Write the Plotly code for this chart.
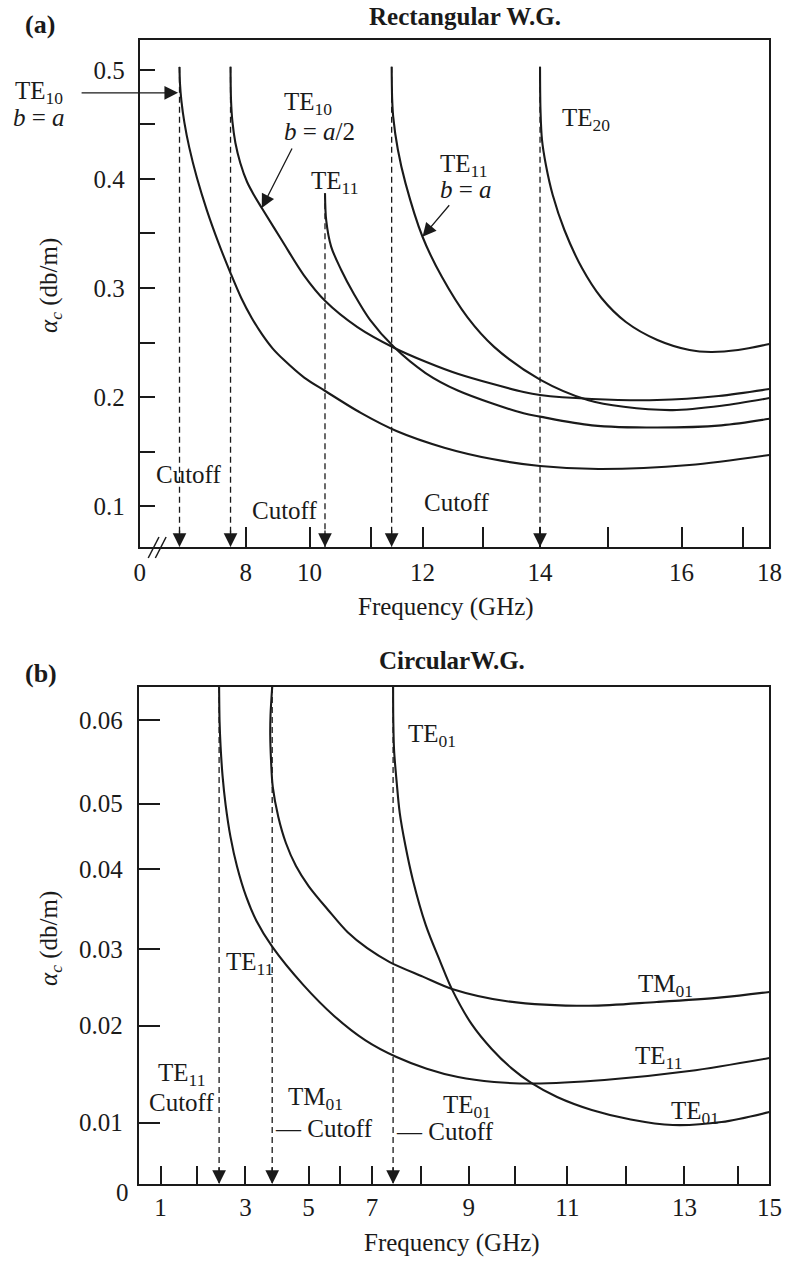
import numpy as np
import plotly.graph_objects as go

W, H = 799, 1262
FONT = "Liberation Serif"
INK = "#1a1a1a"
FS = 25

# ---------------- Panel (a): Rectangular W.G. (freq GHz, alpha_c dB/m) ----------------
te10_ba_f = [5.919, 5.935, 5.98, 6.072, 6.225, 6.47, 6.776, 7.143, 7.51, 7.856, 8.185, 8.515, 8.844,
             9.173, 9.831, 10.254, 10.833, 11.493, 12.358, 13.155, 14.0, 14.857, 16.127, 18.0]
te10_ba_a = [0.5028, 0.4874, 0.4715, 0.452, 0.429, 0.4006, 0.3715, 0.3414, 0.3144, 0.2908, 0.2725,
             0.2572, 0.2444, 0.2346, 0.2178, 0.2055, 0.1854, 0.1688, 0.1535, 0.1431, 0.1367, 0.1339,
             0.1376, 0.1468]

te10_ba2_f = [7.52, 7.535, 7.58, 7.673, 7.826, 8.04, 8.254, 8.5, 9.142, 9.816, 10.254, 10.778, 11.455,
              12.063, 12.59, 13.71, 14.0, 14.757, 15.667, 16.603, 18.0]
te10_ba2_a = [0.503, 0.4725, 0.4523, 0.433, 0.4147, 0.3972, 0.3853, 0.3734, 0.3431, 0.3119, 0.2881,
              0.2642, 0.245, 0.2321, 0.2211, 0.2046, 0.2018, 0.1982, 0.1972, 0.2009, 0.2073]

te11_f = [10.25, 10.27, 10.35, 10.51, 10.73, 10.98, 11.44, 12.05, 12.58, 13.71, 14.0, 14.76, 15.67, 16.65, 18.0]
te11_a = [0.387, 0.362, 0.338, 0.317, 0.2936, 0.271, 0.246, 0.222, 0.206, 0.185, 0.182, 0.174, 0.172, 0.174, 0.180]

te11_ba_f = [11.40, 11.41, 11.43, 11.52, 11.67, 12.0, 12.32, 12.74, 13.19, 14.0, 14.71, 15.21, 15.88, 16.65, 18.0]
te11_ba_a = [0.503, 0.473, 0.457, 0.427, 0.396, 0.347, 0.310, 0.273, 0.246, 0.216, 0.197, 0.191, 0.188, 0.192, 0.199]

te20_f = [14.0, 14.007, 14.029, 14.086, 14.186, 14.357, 14.614, 14.9, 15.24, 15.67, 16.13, 16.48, 16.92, 18.0]
te20_a = [0.503, 0.4633, 0.4358, 0.4128, 0.3853, 0.3532, 0.3183, 0.2908, 0.2688, 0.2523, 0.2431, 0.2413, 0.2431, 0.2486]

rect_cutoffs = [5.92, 7.52, 10.25, 11.40, 14.0]
rect_cut_tops = [0.503, 0.503, 0.387, 0.503, 0.503]

# drawn (non-uniform, broken) frequency scale of panel (a)
rect_f_anchor = [0, 5.5, 8, 10, 11, 12, 13, 14, 15, 16, 17, 18]
rect_f_frac = [0, 0.0419, 0.1685, 0.2698, 0.3674, 0.4491, 0.5457, 0.6357, 0.7442, 0.8605, 0.9581, 1.0]
rect_xticks = [0, 8, 10, 12, 14, 16, 18]
rect_xlabels = ["0", "8", "10", "12", "14", "16", "18"]
rect_xminor = [11, 13, 15, 17]
rect_yticks = [0.1, 0.2, 0.3, 0.4, 0.5]
rect_ylabels = ["0.1", "0.2", "0.3", "0.4", "0.5"]
rect_yminor = [0.15, 0.25, 0.35, 0.45]
rect_yrange = [0.0624, 0.5275]

# ---------------- Panel (b): Circular W.G. ----------------
c_te11_f = [2.452, 2.462, 2.483, 2.523, 2.588, 2.690, 2.826, 3.02, 3.35, 3.846, 4.83, 5.833, 6.796, 7.5,
            8.122, 8.776, 9.545, 10.343, 11.633, 13.091, 15.0]
c_te11_a = [0.0639, 0.05975, 0.05683, 0.05339, 0.0498, 0.0449, 0.04038, 0.03659, 0.03351, 0.03029,
            0.02532, 0.02124, 0.01849, 0.01677, 0.01557, 0.01471, 0.0142, 0.01404, 0.0144, 0.01533, 0.01667]

c_tm01_f = [3.846, 3.793, 3.784, 3.809, 3.864, 4.04, 4.28, 4.60, 5.0, 5.63, 6.25, 6.85, 7.36, 8.04,
            8.65, 9.82, 11.37, 12.53, 13.69, 15.0]
c_tm01_a = [0.0639, 0.0606, 0.0582, 0.0552, 0.0520, 0.04797, 0.04401, 0.0405, 0.0379, 0.0349, 0.0321,
            0.0301, 0.0283, 0.0264, 0.0248, 0.0232, 0.0226, 0.0231, 0.0237, 0.0244]

c_te01_f = [7.43, 7.434, 7.45, 7.5, 7.566, 7.68, 7.834, 8.102, 8.408, 8.653, 9.063, 9.493, 9.922,
            10.306, 10.803, 11.417, 12.083, 12.8, 13.691, 15.0]
c_te01_a = [0.0639, 0.0600, 0.0564, 0.0528, 0.0486, 0.0437, 0.0387, 0.0330, 0.0283, 0.0247, 0.0202,
            0.0176, 0.0156, 0.0141, 0.01265, 0.01131, 0.01033, 0.00962, 0.01007, 0.0111]

circ_cutoffs = [2.452, 3.846, 7.43]

# drawn (non-uniform) scales of panel (b)
circ_f_anchor = [0.4, 1, 2, 3, 4, 5, 6, 7, 8, 9, 10, 11, 12, 13, 14, 15]
circ_f_frac = [0, 0.0345, 0.0929, 0.1692, 0.2193, 0.2693, 0.3184, 0.3700, 0.4474, 0.5232, 0.5971,
               0.6796, 0.7724, 0.8653, 0.9505, 1.0]
circ_a_anchor = [0, 0.01, 0.02, 0.03, 0.04, 0.05, 0.06, 0.0639]
circ_a_frac = [0, 0.1233, 0.3185, 0.4728, 0.6332, 0.7652, 0.9336, 1.0]
circ_xticks = [1, 3, 5, 7, 9, 11, 13, 15]
circ_xlabels = ["1", "3", "5", "7", "9", "11", "13", "15"]
circ_xminor = [2, 6, 8, 10, 12, 14]
circ_yticks = [0.01, 0.02, 0.03, 0.04, 0.05, 0.06]
circ_ylabels = ["0.01", "0.02", "0.03", "0.04", "0.05", "0.06"]


def rx(f):
    return np.interp(f, rect_f_anchor, rect_f_frac)


def cx(f):
    return np.interp(f, circ_f_anchor, circ_f_frac)


def cy(a):
    return np.interp(a, circ_a_anchor, circ_a_frac)


fig = go.Figure()
curve_line = dict(color=INK, width=2.1, shape="spline", smoothing=0.9)
dash_line = dict(color=INK, width=1.3, dash="6px,4px")

# panel (a) dashed cutoff lines and curves
for fc, top in zip(rect_cutoffs, rect_cut_tops):
    fig.add_trace(go.Scatter(x=rx([fc, fc]), y=[top, rect_yrange[0]], mode="lines",
                             line=dash_line, xaxis="x", yaxis="y", hoverinfo="skip"))
for f, a in [(te10_ba_f, te10_ba_a), (te10_ba2_f, te10_ba2_a), (te11_f, te11_a),
             (te11_ba_f, te11_ba_a), (te20_f, te20_a)]:
    fig.add_trace(go.Scatter(x=rx(f), y=a, mode="lines", line=curve_line, xaxis="x", yaxis="y"))

# panel (b)
for fc in circ_cutoffs:
    fig.add_trace(go.Scatter(x=cx([fc, fc]), y=[1.0, 0.0], mode="lines",
                             line=dash_line, xaxis="x2", yaxis="y2", hoverinfo="skip"))
for f, a in [(c_te11_f, c_te11_a), (c_tm01_f, c_tm01_a), (c_te01_f, c_te01_a)]:
    fig.add_trace(go.Scatter(x=cx(f), y=cy(a), mode="lines", line=curve_line, xaxis="x2", yaxis="y2"))

tickfont = dict(family=FONT, size=FS, color=INK)
axis_common = dict(showline=True, linecolor=INK, linewidth=2, mirror=True, ticks="inside",
                   tickcolor=INK, tickwidth=2, showgrid=False, zeroline=False, tickfont=tickfont,
                   fixedrange=True, tickmode="array")


def minor(vals, length):
    return dict(tickmode="array", tickvals=vals, ticks="inside", ticklen=length,
                tickwidth=2, tickcolor=INK, showgrid=False)


fig.update_layout(
    width=W, height=H, margin=dict(l=0, r=0, t=0, b=0),
    paper_bgcolor="white", plot_bgcolor="white", showlegend=False,
    font=dict(family=FONT, size=FS, color=INK),
    xaxis=dict(axis_common, domain=[137 / W, 782 / W], range=[0, 1],
               tickvals=list(rx(rect_xticks)), ticktext=rect_xlabels, ticklen=20,
               minor=minor(list(rx(rect_xminor)), 20), ticklabelstandoff=2, anchor="y"),
    yaxis=dict(axis_common, domain=[1 - 547 / H, 1 - 40 / H], range=rect_yrange,
               tickvals=rect_yticks, ticktext=rect_ylabels, ticklen=15,
               minor=minor(rect_yminor, 15), ticklabelstandoff=8, anchor="x"),
    xaxis2=dict(axis_common, domain=[136 / W, 782 / W], range=[0, 1],
                tickvals=list(cx(circ_xticks)), ticktext=circ_xlabels, ticklen=18,
                minor=minor(list(cx(circ_xminor)), 18), ticklabelstandoff=0, anchor="y2"),
    yaxis2=dict(axis_common, domain=[1 - 1184 / H, 1 - 687 / H], range=[0, 1],
                tickvals=list(cy(circ_yticks)), ticktext=circ_ylabels, ticklen=21,
                ticklabelstandoff=9, anchor="x2"),
)

arrow_kw = dict(showarrow=True, arrowhead=2, arrowsize=2.1, arrowwidth=1.3, arrowcolor=INK, text="")

# cutoff arrowheads
for fc in rect_cutoffs:
    fig.add_annotation(xref="x", yref="y", x=float(rx(fc)), y=rect_yrange[0], ax=0, ay=-18, **arrow_kw)
for fc in circ_cutoffs:
    fig.add_annotation(xref="x2", yref="y2", x=float(cx(fc)), y=0.0, ax=0, ay=-18, **arrow_kw)

# label pointer arrows (panel a)
fig.add_annotation(xref="x", yref="y", x=float(rx(5.875)), y=0.479, ax=-98, ay=0, **arrow_kw)
fig.add_annotation(xref="x", yref="y", x=float(rx(te10_ba2_f[7])), y=te10_ba2_a[7], ax=31, ay=-61, **arrow_kw)
fig.add_annotation(xref="x", yref="y", x=float(rx(te11_ba_f[5])), y=te11_ba_a[5], ax=28, ay=-33, **arrow_kw)


def label(text, px, py, xanchor="center", size=FS, angle=0):
    fig.add_annotation(xref="paper", yref="paper", x=px / W, y=1 - py / H, text=text,
                       showarrow=False, xanchor=xanchor, yanchor="middle", textangle=angle,
                       font=dict(family=FONT, size=size, color=INK))


# titles and axis titles
label("<b>(a)</b>", 35, 25, size=26)
label("<b>Rectangular W.G.</b>", 470, 17)
label("Frequency (GHz)", 451, 607)
label("<i>α<sub>c</sub></i> (db/m)", 45, 285, angle=-90)
label("<b>(b)</b>", 36, 673, size=26)
label("<b>CircularW.G.</b>", 457, 660)
label("Frequency (GHz)", 457, 1243)
label("<i>α<sub>c</sub></i> (db/m)", 45, 938, angle=-90)
label("0", 119, 1192)

# panel (a) curve labels
label("TE<sub>10</sub>", 34, 92)
label("<i>b</i> = <i>a</i>", 34, 117)
label("TE<sub>10</sub>", 283, 104, xanchor="left")
label("<i>b</i> = <i>a</i>/2", 283, 131, xanchor="left")
label("TE<sub>11</sub>", 310, 182, xanchor="left")
label("TE<sub>11</sub>", 443, 165, xanchor="left")
label("<i>b</i> = <i>a</i>", 443, 190, xanchor="left")
label("TE<sub>20</sub>", 567, 120, xanchor="left")
label("Cutoff", 187, 475)
label("Cutoff", 285, 510)
label("Cutoff", 461, 502)

# panel (b) curve labels
label("TE<sub>01</sub>", 410, 735, xanchor="left")
label("TE<sub>11</sub>", 223, 963, xanchor="left")
label("TE<sub>11</sub>", 180, 1074)
label("Cutoff", 180, 1102)
label("TM<sub>01</sub>", 317, 1098)
label("— Cutoff", 273, 1128, xanchor="left")
label("TE<sub>01</sub>", 472, 1106)
label("— Cutoff", 397, 1131, xanchor="left")
label("TM<sub>01</sub>", 676, 985)
label("TE<sub>11</sub>", 668, 1057)
label("TE<sub>01</sub>", 706, 1112)

# axis break mark on panel (a)
for x0 in (145.7, 153.0):
    fig.add_shape(type="line", xref="paper", yref="paper", x0=x0 / W, y0=1 - 558 / H,
                  x1=(x0 + 11) / W, y1=1 - 537 / H, line=dict(color=INK, width=1.5))

fig.write_html("out.html")
